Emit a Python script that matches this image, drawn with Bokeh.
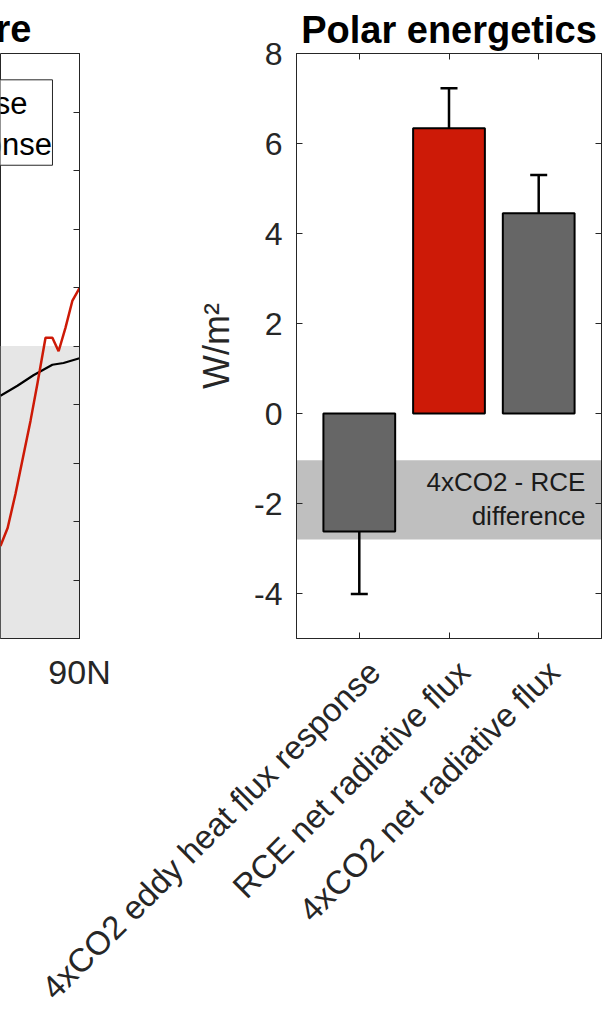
import math
from bokeh.plotting import figure
from bokeh.models import (Range1d, FixedTicker, LinearAxis, BoxAnnotation, Whisker,
                          TeeHead, ColumnDataSource, Title, CustomJSTickFormatter,
                          InlineStyleSheet)
from bokeh.core.properties import value
from bokeh.embed import file_html
from bokeh.resources import INLINE

FONT = "Liberation Sans"
TXT = "#262626"
RED = "#CD1A07"
GRAY = "#666666"

# ---------------- Left panel (partially visible) ----------------
lat_red = [65.8, 68.0, 70.4, 72.9, 75.0, 77.1, 79.6, 81.7, 83.6, 85.7, 87.8, 90.0]
resp_red = [-3.42, -3.11, -2.53, -1.85, -1.28, -0.65, 0.14, 0.14, -0.09, 0.31, 0.77, 0.99]
lat_black = [65.8, 71.0, 75.9, 81.7, 85.1, 90.0]
resp_black = [-0.85, -0.68, -0.50, -0.32, -0.29, -0.21]
lat_ticks = [60, 90]
lat_tick_labels = ["60N", "90N"]
left_yticks = [-5, -4, -3, -2, -1, 0, 1, 2, 3, 4, 5]
legend_labels = ["RCE response", "4xCO2 response"]
shade_top = 0.0
left_title = "Surface temperature"

# ---------------- Right panel ----------------
categories = ["4xCO2 eddy heat flux response", "RCE net radiative flux", "4xCO2 net radiative flux"]
positions = [1, 2, 3]
flux = [-2.62, 6.34, 4.45]
err_low = [-4.01, 5.43, 3.55]
err_high = [-1.26, 7.23, 5.30]
bar_colors = [GRAY, RED, GRAY]
diff_band = [-2.80, -1.04]
band_text = ["4xCO2 - RCE", "difference"]
right_yticks = [-4, -2, 0, 2, 4, 6, 8]
right_ytick_labels = ["-4", "-2", "0", "2", "4", "6", "8"]
right_title = "Polar energetics"

LABEL_SHIFT = 0.167  # horizontal nudge of the rotated category labels (in bar units)


def style_axis(ax, size="32px"):
    ax.major_label_text_font = FONT
    ax.major_label_text_font_size = size
    ax.major_label_text_color = TXT
    ax.axis_line_color = TXT
    ax.major_tick_line_color = TXT
    ax.major_tick_in = 6
    ax.major_tick_out = 0
    ax.minor_tick_line_color = None


def blank_axis(ticks, **kw):
    ax = LinearAxis(ticker=FixedTicker(ticks=ticks),
                    formatter=CustomJSTickFormatter(code="return ''"), **kw)
    ax.major_label_text_font_size = "1px"
    ax.major_label_standoff = 0
    ax.axis_line_color = TXT
    ax.major_tick_line_color = TXT
    ax.major_tick_in = 6
    ax.major_tick_out = 0
    ax.minor_tick_line_color = None
    return ax


# ---- right figure (full page; its left border hosts the partial left panel) ----
rp = figure(width=603, height=1025, x_range=Range1d(0.3, 3.7), y_range=Range1d(-5, 8),
            output_backend="svg", toolbar_location=None, x_axis_location=None,
            min_border_left=296, min_border_right=2, min_border_top=53, min_border_bottom=387)
rp.extra_x_ranges = {"labels": Range1d(0.3 - LABEL_SHIFT, 3.7 - LABEL_SHIFT)}
rp.grid.visible = False
rp.outline_line_color = TXT
rp.add_layout(BoxAnnotation(bottom=diff_band[0], top=diff_band[1], fill_color="#BFBFBF",
                            fill_alpha=1.0, line_color=None, level="underlay"))
src = ColumnDataSource(dict(x=positions, top=flux, lower=err_low, upper=err_high, color=bar_colors))
rp.vbar(x="x", top="top", bottom=0, width=0.8, fill_color="color", line_color="black",
        line_width=2, source=src)
rp.add_layout(Whisker(base="x", upper="upper", lower="lower", source=src, line_width=2.5,
                      line_color="black",
                      upper_head=TeeHead(size=17, line_width=2.5, line_color="black"),
                      lower_head=TeeHead(size=17, line_width=2.5, line_color="black")))
rp.text(x=[3.52, 3.52], y=[-1.53, -2.28], text=band_text, text_align="right",
        text_baseline="middle", text_font=value(FONT), text_font_size="26px", text_color="#1a1a1a")

rp.yaxis.ticker = FixedTicker(ticks=right_yticks)
rp.yaxis.major_label_overrides = dict(zip(right_yticks, right_ytick_labels))
style_axis(rp.yaxis[0])
rp.yaxis.major_label_standoff = 14
rp.yaxis.axis_label = "W/m²"
rp.yaxis.axis_label_text_font = FONT
rp.yaxis.axis_label_text_font_size = "36px"
rp.yaxis.axis_label_text_font_style = "normal"
rp.yaxis.axis_label_text_color = TXT
rp.yaxis.axis_label_standoff = 14

# bottom axis: ticks at the bars
rp.add_layout(blank_axis(positions), "below")
# category labels, rotated 45 degrees
lab_axis = LinearAxis(x_range_name="labels", ticker=FixedTicker(ticks=positions),
                      major_label_overrides=dict(zip(positions, categories)))
lab_axis.major_label_text_font = FONT
lab_axis.major_label_text_font_size = "33px"
lab_axis.major_label_text_color = TXT
lab_axis.major_label_orientation = math.pi / 4
lab_axis.major_label_standoff = 22
lab_axis.axis_line_color = None
lab_axis.major_tick_line_color = None
lab_axis.minor_tick_line_color = None
rp.add_layout(lab_axis, "below")

rp.add_layout(blank_axis(right_yticks), "right")
rp.add_layout(blank_axis(positions), "above")
rp.add_layout(Title(text=right_title, align="center", text_font=FONT, text_font_size="38px",
                    text_font_style="bold", text_color="black", standoff=5), "above")

# ---- left figure, laid over the top-left corner of the page ----
lp = figure(width=180, height=700, x_range=Range1d(65.82, 90), y_range=Range1d(-5, 5),
            output_backend="svg", toolbar_location=None, y_axis_location="right",
            min_border_left=0, min_border_right=101, min_border_top=53, min_border_bottom=62)
lp.grid.visible = False
lp.outline_line_color = TXT
lp.add_layout(BoxAnnotation(top=shade_top, fill_color="#E6E6E6", fill_alpha=1.0,
                            line_color=None, level="underlay"))
lp.line(lat_black, resp_black, line_color="black", line_width=2.2)
lp.line(lat_red, resp_red, line_color=RED, line_width=2.5)
lp.quad(left=[50], right=[81.73], top=[4.55], bottom=[3.09], fill_color="white",
        line_color=TXT, line_width=1)
lp.text(x=[74.08, 81.6], y=[4.14, 3.45], text=legend_labels, text_align="right",
        text_baseline="middle", text_font=value(FONT), text_font_size="31px", text_color="black")
lp.xaxis.ticker = FixedTicker(ticks=lat_ticks)
lp.xaxis.major_label_overrides = dict(zip(lat_ticks, lat_tick_labels))
style_axis(lp.xaxis[0], "34px")
lp.xaxis.major_label_standoff = 14
lp.yaxis.ticker = FixedTicker(ticks=left_yticks)
style_axis(lp.yaxis[0])
lp.yaxis.major_label_text_color = None
lp.add_layout(Title(text=left_title, align="right", offset=48, text_font=FONT,
                    text_font_size="38px", text_font_style="bold", text_color="black",
                    standoff=8), "above")
lp.styles = {"position": "absolute", "left": "0px", "top": "0px"}
lp.stylesheets = [InlineStyleSheet(css=":host { position: absolute !important; left: 0px !important; top: 0px !important; z-index: 5; }")]

open("out.html", "w").write(file_html([rp, lp], INLINE))
